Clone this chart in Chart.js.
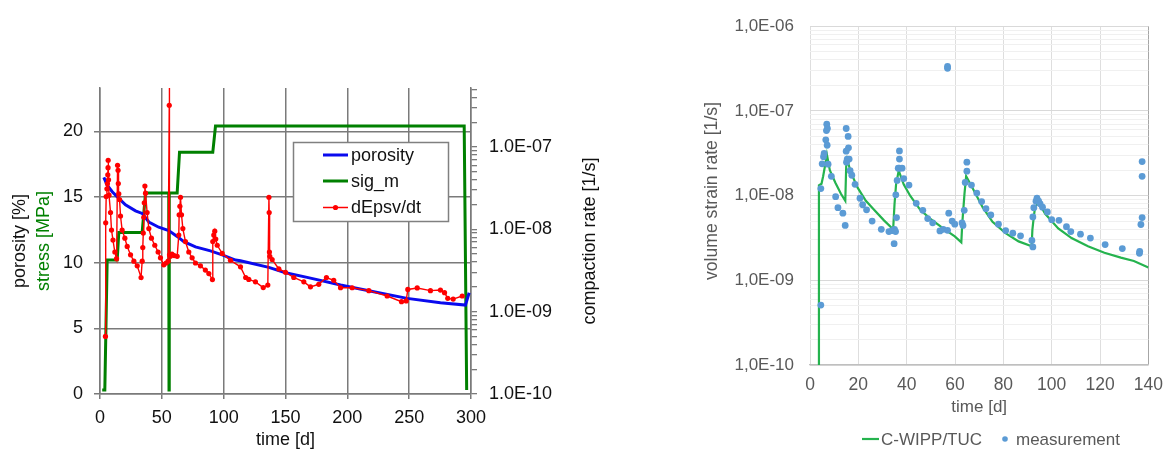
<!DOCTYPE html>
<html>
<head>
<meta charset="utf-8">
<script src="https://cdn.jsdelivr.net/npm/chart.js@4.4.1/dist/chart.umd.min.js"></script>
<style>
  html, body { margin: 0; padding: 0; background: #fff; width: 1173px; height: 453px; overflow: hidden; }
  #oedometer { position: absolute; left: 0; top: 0; }
  #strainRate { position: absolute; left: 640px; top: 0; }
</style>
</head>
<body>
<canvas id="oedometer" width="630" height="453"></canvas>
<canvas id="strainRate" width="533" height="453"></canvas>
<script>
// ---------- Left panel: porosity, mean stress and compaction rate over 300 days ----------
// [time d, porosity %]
const porosity = [[3.1,16.5],[5.8,15.9],[9.9,15.4],[15.2,14.9],[20.6,14.4],[28.7,13.95],[34.1,13.75],[39.5,13.1],
  [47.5,12.7],[55.6,12.45],[62.4,12.0],[67.8,11.6],[77.2,11.2],[89.3,10.9],[98.8,10.6],[109.6,10.2],[113.6,10.15],
  [136.5,9.64],[150,9.23],[167.5,8.88],[194.5,8.3],[221.4,7.79],[248.4,7.28],[275.3,6.95],[295.5,6.77],[298.5,7.71]];
// [time d, sig_m MPa]
const sigM = [[1.8,0.3],[3.9,0.3],[5.8,10.2],[13.9,10.2],[15.2,12.3],[34.1,12.3],[36.8,15.3],[55.6,15.3],[55.8,0.3],
  [56.0,15.3],[62.4,15.3],[64.3,18.4],[91.2,18.4],[93.4,20.4],[294.5,20.4],[296.5,0.3]];
// [time d, dEpsv/dt 1/s]
const compactionRate = [
  [4.4,5.0e-10],[4.6,1.2e-8],[5.0,2.5e-8],[5.6,3.1e-8],[6.0,3.6e-8],[6.3,4.6e-8],[6.5,5.6e-8],[6.6,6.9e-8],
  [6.9,4.0e-8],[7.3,2.6e-8],[8.5,1.6e-8],[9.3,9.8e-9],[10.5,7.4e-9],[12.0,5.3e-9],[13.4,4.4e-9],
  [14.2,6.0e-8],[14.6,5.2e-8],[14.8,3.6e-8],[15.2,2.7e-8],[15.8,2.3e-8],[16.6,1.45e-8],[17.9,9.8e-9],[20.1,7.8e-9],
  [22.0,6.2e-9],[24.7,4.9e-9],[27.4,4.1e-9],[30.1,3.6e-9],[33.2,2.6e-9],
  [34.1,4.1e-9],[34.6,6.0e-9],[35.0,9.0e-9],[35.4,1.4e-8],[35.8,2.1e-8],[36.3,3.35e-8],[36.8,2.75e-8],[38.1,1.6e-8],
  [39.5,1.02e-8],[41.6,7.8e-9],[44.3,6.4e-9],[47.0,5.3e-9],[48.9,4.5e-9],[51.6,3.7e-9],[53.5,3.9e-9],[55.1,4.1e-9],
  [56.0,3.2e-7],[56.1,2.0e-6],[56.2,4.9e-9],[56.9,4.7e-9],[58.2,5.0e-9],[60.0,4.8e-9],[62.4,4.7e-9],
  [63.7,8.5e-9],[64.0,1.5e-8],[64.6,1.9e-8],[65.1,2.45e-8],[65.9,1.5e-8],[67.0,1.02e-8],[69.1,7.1e-9],[71.8,5.3e-9],
  [74.5,4.5e-9],[77.2,3.9e-9],[81.2,3.6e-9],[85.2,3.2e-9],[88.0,2.9e-9],[90.9,2.45e-9],
  [91.2,7.1e-9],[92.0,8.5e-9],[92.8,9.5e-9],[93.6,7.6e-9],[94.8,6.4e-9],[98.8,5.1e-9],[105.5,4.2e-9],[113.6,3.5e-9],
  [117.8,2.6e-9],[120.3,2.46e-9],[125.7,2.3e-9],[132.0,1.96e-9],[135.7,2.1e-9],
  [136.6,2.45e-8],[136.8,1.6e-8],[137.0,5.3e-9],[137.3,4.7e-9],[139.2,4.3e-9],[144.6,3.3e-9],[150.0,3.0e-9],
  [156.7,2.6e-9],[164.8,2.3e-9],[170.2,2.0e-9],[176.9,2.15e-9],[183.1,2.6e-9],[189.0,2.4e-9],[194.5,1.95e-9],
  [203.9,1.95e-9],[217.4,1.8e-9],[232.2,1.55e-9],[243.8,1.32e-9],[247.6,1.35e-9],[248.9,1.86e-9],[256.5,1.94e-9],
  [267.2,1.8e-9],[275.3,1.83e-9],[278.6,1.7e-9],[281.2,1.45e-9],[285.6,1.42e-9],[292.9,1.55e-9]];
const rateDecades = [1e-10, 1e-9, 1e-8, 1e-7];
const rateTickLabels = ['1.0E-10', '1.0E-09', '1.0E-08', '1.0E-07'];
const leftSeriesNames = ['porosity', 'sig_m', 'dEpsv/dt'];

// ---------- Right panel: volume strain rate, model vs. measurement over 140 days ----------
// [time d, rate 1/s]
const modelRate = [[3.7,1e-10],[3.7,1.32e-8],[4.76,1.38e-8],[5.44,1.69e-8],[6.4,2.41e-8],[7.0,3.05e-8],[8.2,2.0e-8],
  [10.5,1.42e-8],[12.8,1.05e-8],[14.6,8.7e-9],[14.97,2.2e-8],[15.4,2.65e-8],[17.0,1.85e-8],[19.7,1.24e-8],[23.1,8.7e-9],
  [26.5,6.8e-9],[30.6,5.1e-9],[34.4,4.0e-9],[34.97,7.96e-9],[35.6,1.35e-8],[36.7,1.97e-8],[38.8,1.35e-8],[41.5,9.9e-9],
  [45.6,6.8e-9],[49.7,5.36e-9],[55.1,4.1e-9],[59.9,3.3e-9],[62.6,2.8e-9],[63.0,4.7e-9],[63.9,1.04e-8],[64.6,1.69e-8],
  [67.3,1.22e-8],[71.4,7.3e-9],[75.5,4.9e-9],[80.9,3.6e-9],[86.3,2.88e-9],[91.7,2.52e-9],[92.0,3.93e-9],[92.5,5.36e-9],
  [93.1,7.3e-9],[94.6,8.3e-9],[97.3,6.1e-9],[102.7,4.1e-9],[108.2,3.15e-9],[115,2.52e-9],[121.8,2.11e-9],
  [128.6,1.85e-9],[134,1.69e-9],[140,1.42e-9]];
const measuredRate = [
  [4.49,5.1e-10],[4.49,1.21e-8],[5.03,2.37e-8],[5.58,2.88e-8],[5.85,3.14e-8],[6.53,4.56e-8],[6.8,5.85e-8],[6.94,6.98e-8],
  [7.1,3.93e-8],[7.2,6.2e-8],[7.48,2.35e-8],[8.84,1.69e-8],[10.61,9.7e-9],[11.56,7.2e-9],[13.6,6.2e-9],[14.56,4.45e-9],
  [14.97,6.2e-8],[15.78,5.0e-8],[14.97,3.35e-8],[15.92,3.66e-8],[15.4,2.7e-8],[16.2,2.7e-8],[15.1,2.48e-8],[16.6,1.97e-8],
  [17.3,1.74e-8],[18.64,1.36e-8],[20.68,9.3e-9],[21.77,7.8e-9],[23.4,6.8e-9],[25.7,5.0e-9],[29.5,4.0e-9],[32.65,3.76e-9],
  [34.0,3.85e-9],[34.97,4.0e-9],[35.4,3.76e-9],[34.8,2.71e-9],
  [35.8,5.5e-9],[35.5,1.02e-8],[36.05,1.51e-8],[37.0,2.11e-8],[36.5,2.11e-8],[37.0,2.7e-8],[37.0,3.37e-8],[38.1,2.11e-8],
  [38.78,1.59e-8],[40.95,1.33e-8],[43.95,8.1e-9],[46.67,6.7e-9],[48.7,5.36e-9],[50.75,4.77e-9],[53.75,3.83e-9],
  [55.1,4.0e-9],[56.9,3.89e-9],[57.4,6.2e-9],[58.8,5.0e-9],[59.9,4.6e-9],[56.9,3.19e-7],[56.9,3.35e-7],
  [62.9,4.77e-9],[63.3,4.45e-9],[63.8,6.7e-9],[64.2,1.43e-8],[64.9,1.94e-8],[64.9,2.48e-8],[66.8,1.33e-8],[69.0,1.07e-8],
  [71.0,8.5e-9],[72.8,7.0e-9],[74.8,5.9e-9],[77.96,4.6e-9],[80.95,3.86e-9],[83.9,3.6e-9],[87.1,3.35e-9],[91.8,2.96e-9],
  [92.2,2.48e-9],
  [92.2,5.6e-9],[92.6,7.2e-9],[93.5,8.6e-9],[93.9,9.35e-9],[94.6,8.6e-9],[95.2,8.0e-9],[96.2,7.3e-9],[98.2,6.4e-9],
  [100,5.2e-9],[103,5.1e-9],[106.1,4.3e-9],[107.9,3.76e-9],[111.9,3.5e-9],[116,3.15e-9],[122.1,2.64e-9],[129.2,2.37e-9],
  [136.3,2.08e-9],[136.4,2.2e-9],[136.9,4.56e-9],[137.4,5.5e-9],[137.4,1.69e-8],[137.4,2.52e-8]];
const strainDecades = [1e-10, 1e-9, 1e-8, 1e-7, 1e-6];
const strainTickLabels = ['1,0E-10', '1,0E-09', '1,0E-08', '1,0E-07', '1,0E-06'];
const rightSeriesNames = ['C-WIPP/TUC', 'measurement'];

// ---------- helpers ----------
const FONT = '"Liberation Sans", Arial, Helvetica, sans-serif';
Chart.defaults.font.family = FONT;
const toXY = pairs => pairs.map(p => ({ x: p[0], y: p[1] }));

function isDecade(v) {
  const e = Math.log10(v);
  return Math.abs(e - Math.round(e)) < 1e-6;
}
// keep only 1..9 x 10^n ticks on log axes
function integerLogTicks(scale) {
  scale.ticks = scale.ticks.filter(t => {
    const e = Math.floor(Math.log10(t.value) + 1e-9);
    const m = t.value / Math.pow(10, e);
    return Math.abs(m - Math.round(m)) < 1e-6;
  });
}
function decadeLabel(v, decades, labels) {
  for (let i = 0; i < decades.length; i++) {
    if (Math.abs(v / decades[i] - 1) < 1e-6) return labels[i];
  }
  return '';
}
function rotatedText(ctx, text, x, y, color, size) {
  ctx.save();
  ctx.translate(x, y);
  ctx.rotate(-Math.PI / 2);
  ctx.font = size + 'px ' + FONT;
  ctx.fillStyle = color;
  ctx.textAlign = 'center';
  ctx.textBaseline = 'middle';
  ctx.fillText(text, 0, 0);
  ctx.restore();
}

const BLUE = '#0a0aee', GREEN = '#008000', RED = '#ff0000';
const GRID = '#7a7a7a';

// ---------- left chart ----------
const leftDecor = {
  id: 'leftDecor',
  afterDraw(chart) {
    const ctx = chart.ctx;
    const area = chart.chartArea;
    const midY = (area.top + area.bottom) / 2;
    rotatedText(ctx, 'porosity [%]', 20, midY, '#111', 18);
    rotatedText(ctx, 'stress [MPa]', 44, midY, GREEN, 18);
    rotatedText(ctx, 'compaction rate [1/s]', 590, midY, '#111', 18);

    // legend box
    const bx = 293.5, by = 142.5, bw = 155, bh = 79;
    ctx.save();
    ctx.fillStyle = '#fff';
    ctx.fillRect(bx, by, bw, bh);
    ctx.strokeStyle = '#808080';
    ctx.lineWidth = 1.5;
    ctx.strokeRect(bx, by, bw, bh);
    const colors = [BLUE, GREEN, RED];
    const rows = [155, 181, 207.5];
    ctx.font = '18px ' + FONT;
    ctx.textBaseline = 'middle';
    ctx.textAlign = 'left';
    leftSeriesNames.forEach((name, i) => {
      ctx.strokeStyle = colors[i];
      ctx.lineWidth = i === 2 ? 1.5 : 3;
      ctx.beginPath();
      ctx.moveTo(323, rows[i]);
      ctx.lineTo(348, rows[i]);
      ctx.stroke();
      if (i === 2) {
        ctx.fillStyle = RED;
        ctx.beginPath();
        ctx.arc(335.5, rows[i], 2.6, 0, Math.PI * 2);
        ctx.fill();
      }
      ctx.fillStyle = '#111';
      ctx.fillText(name, 351, rows[i] + 1);
    });
    ctx.restore();
  }
};

new Chart(document.getElementById('oedometer'), {
  type: 'scatter',
  data: {
    datasets: [
      { label: leftSeriesNames[2], data: toXY(compactionRate), yAxisID: 'y2', showLine: true, order: 0,
        borderColor: RED, borderWidth: 1.4, backgroundColor: RED, pointRadius: 2.6, pointBorderWidth: 0 },
      { label: leftSeriesNames[0], data: toXY(porosity), yAxisID: 'y', showLine: true, order: 1,
        borderColor: BLUE, borderWidth: 3, pointRadius: 0 },
      { label: leftSeriesNames[1], data: toXY(sigM), yAxisID: 'y', showLine: true, order: 2,
        borderColor: GREEN, borderWidth: 3, pointRadius: 0 }
    ]
  },
  options: {
    responsive: false,
    animation: false,
    layout: { padding: { top: 88, left: 0, right: 0, bottom: 0 } },
    plugins: { legend: { display: false }, tooltip: { enabled: false } },
    scales: {
      x: {
        type: 'linear', min: 0, max: 300,
        ticks: { stepSize: 50, padding: 8, maxRotation: 0, color: '#111', font: { size: 18 } },
        grid: { color: GRID, lineWidth: 1.5, tickLength: 5, tickColor: GRID },
        border: { color: GRID, width: 1.5 },
        title: { display: true, text: 'time [d]', color: '#111', font: { size: 18 }, padding: { top: 0, bottom: 2 } },
        afterFit: s => { s.height = 59; }
      },
      y: {
        type: 'linear', position: 'left', min: 0, max: 23.3,
        ticks: { stepSize: 5, includeBounds: false, padding: 11, color: '#111', font: { size: 18 } },
        grid: { color: GRID, lineWidth: 1.5, tickLength: 6, tickColor: GRID },
        border: { color: GRID, width: 1.5 },
        afterFit: s => { s.width = 100; }
      },
      y2: {
        type: 'logarithmic', position: 'right', min: 1e-10, max: 5.2e-7,
        afterBuildTicks: integerLogTicks,
        ticks: { autoSkip: false, padding: 12, color: '#111', font: { size: 18 },
          callback: v => decadeLabel(v, rateDecades, rateTickLabels) },
        grid: { drawOnChartArea: false, tickLength: 6, tickColor: GRID, lineWidth: 1.3 },
        border: { color: GRID, width: 1.5 },
        afterFit: s => { s.width = 159; }
      }
    }
  },
  plugins: [leftDecor]
});

// ---------- right chart ----------
const MODEL = '#25b34e', MEAS = '#5b9bd5', TEXT = '#595959';
const rightDecor = {
  id: 'rightDecor',
  afterDraw(chart) {
    const ctx = chart.ctx;
    rotatedText(ctx, 'volume strain rate [1/s]', 72, 191, TEXT, 17.6);
    ctx.save();
    const y = 439;
    ctx.strokeStyle = MODEL;
    ctx.lineWidth = 2.2;
    ctx.beginPath();
    ctx.moveTo(222, y);
    ctx.lineTo(239, y);
    ctx.stroke();
    ctx.font = '17px ' + FONT;
    ctx.fillStyle = TEXT;
    ctx.textBaseline = 'middle';
    ctx.textAlign = 'left';
    ctx.fillText(rightSeriesNames[0], 241, y + 1);
    ctx.fillStyle = MEAS;
    ctx.beginPath();
    ctx.arc(365, y, 2.8, 0, Math.PI * 2);
    ctx.fill();
    ctx.fillStyle = TEXT;
    ctx.fillText(rightSeriesNames[1], 376, y + 1);
    ctx.restore();
  }
};

new Chart(document.getElementById('strainRate'), {
  type: 'scatter',
  data: {
    datasets: [
      { label: rightSeriesNames[1], data: toXY(measuredRate), order: 0,
        backgroundColor: MEAS, pointRadius: 3.4, pointBorderWidth: 0 },
      { label: rightSeriesNames[0], data: toXY(modelRate), showLine: true, order: 1,
        borderColor: MODEL, borderWidth: 2.2, pointRadius: 0 }
    ]
  },
  options: {
    responsive: false,
    animation: false,
    layout: { padding: { top: 18, left: 0, right: 20, bottom: 0 } },
    plugins: { legend: { display: false }, tooltip: { enabled: false } },
    scales: {
      x: {
        type: 'linear', min: 0, max: 140,
        ticks: { stepSize: 20, padding: 10, maxRotation: 0, color: TEXT, font: { size: 17.5 } },
        grid: { drawTicks: false, color: c => (c.tick && c.tick.value === 140 ? '#a6a6a6' : '#dedede'), lineWidth: 1 },
        border: { color: '#bfbfbf', width: 1.2 },
        title: { display: true, text: 'time [d]', color: TEXT, font: { size: 17 }, padding: { top: 0, bottom: 35 } },
        afterFit: s => { s.height = 88; }
      },
      y: {
        type: 'logarithmic', min: 1e-10, max: 1e-6,
        afterBuildTicks: integerLogTicks,
        ticks: { autoSkip: false, padding: 16, color: TEXT, font: { size: 17 },
          callback: v => decadeLabel(v, strainDecades, strainTickLabels) },
        grid: { drawTicks: false, color: c => (c.tick && isDecade(c.tick.value) ? '#d9d9d9' : '#f0f0f0'), lineWidth: 1 },
        border: { display: false },
        afterFit: s => { s.width = 170; }
      }
    }
  },
  plugins: [rightDecor]
});
</script>
</body>
</html>
